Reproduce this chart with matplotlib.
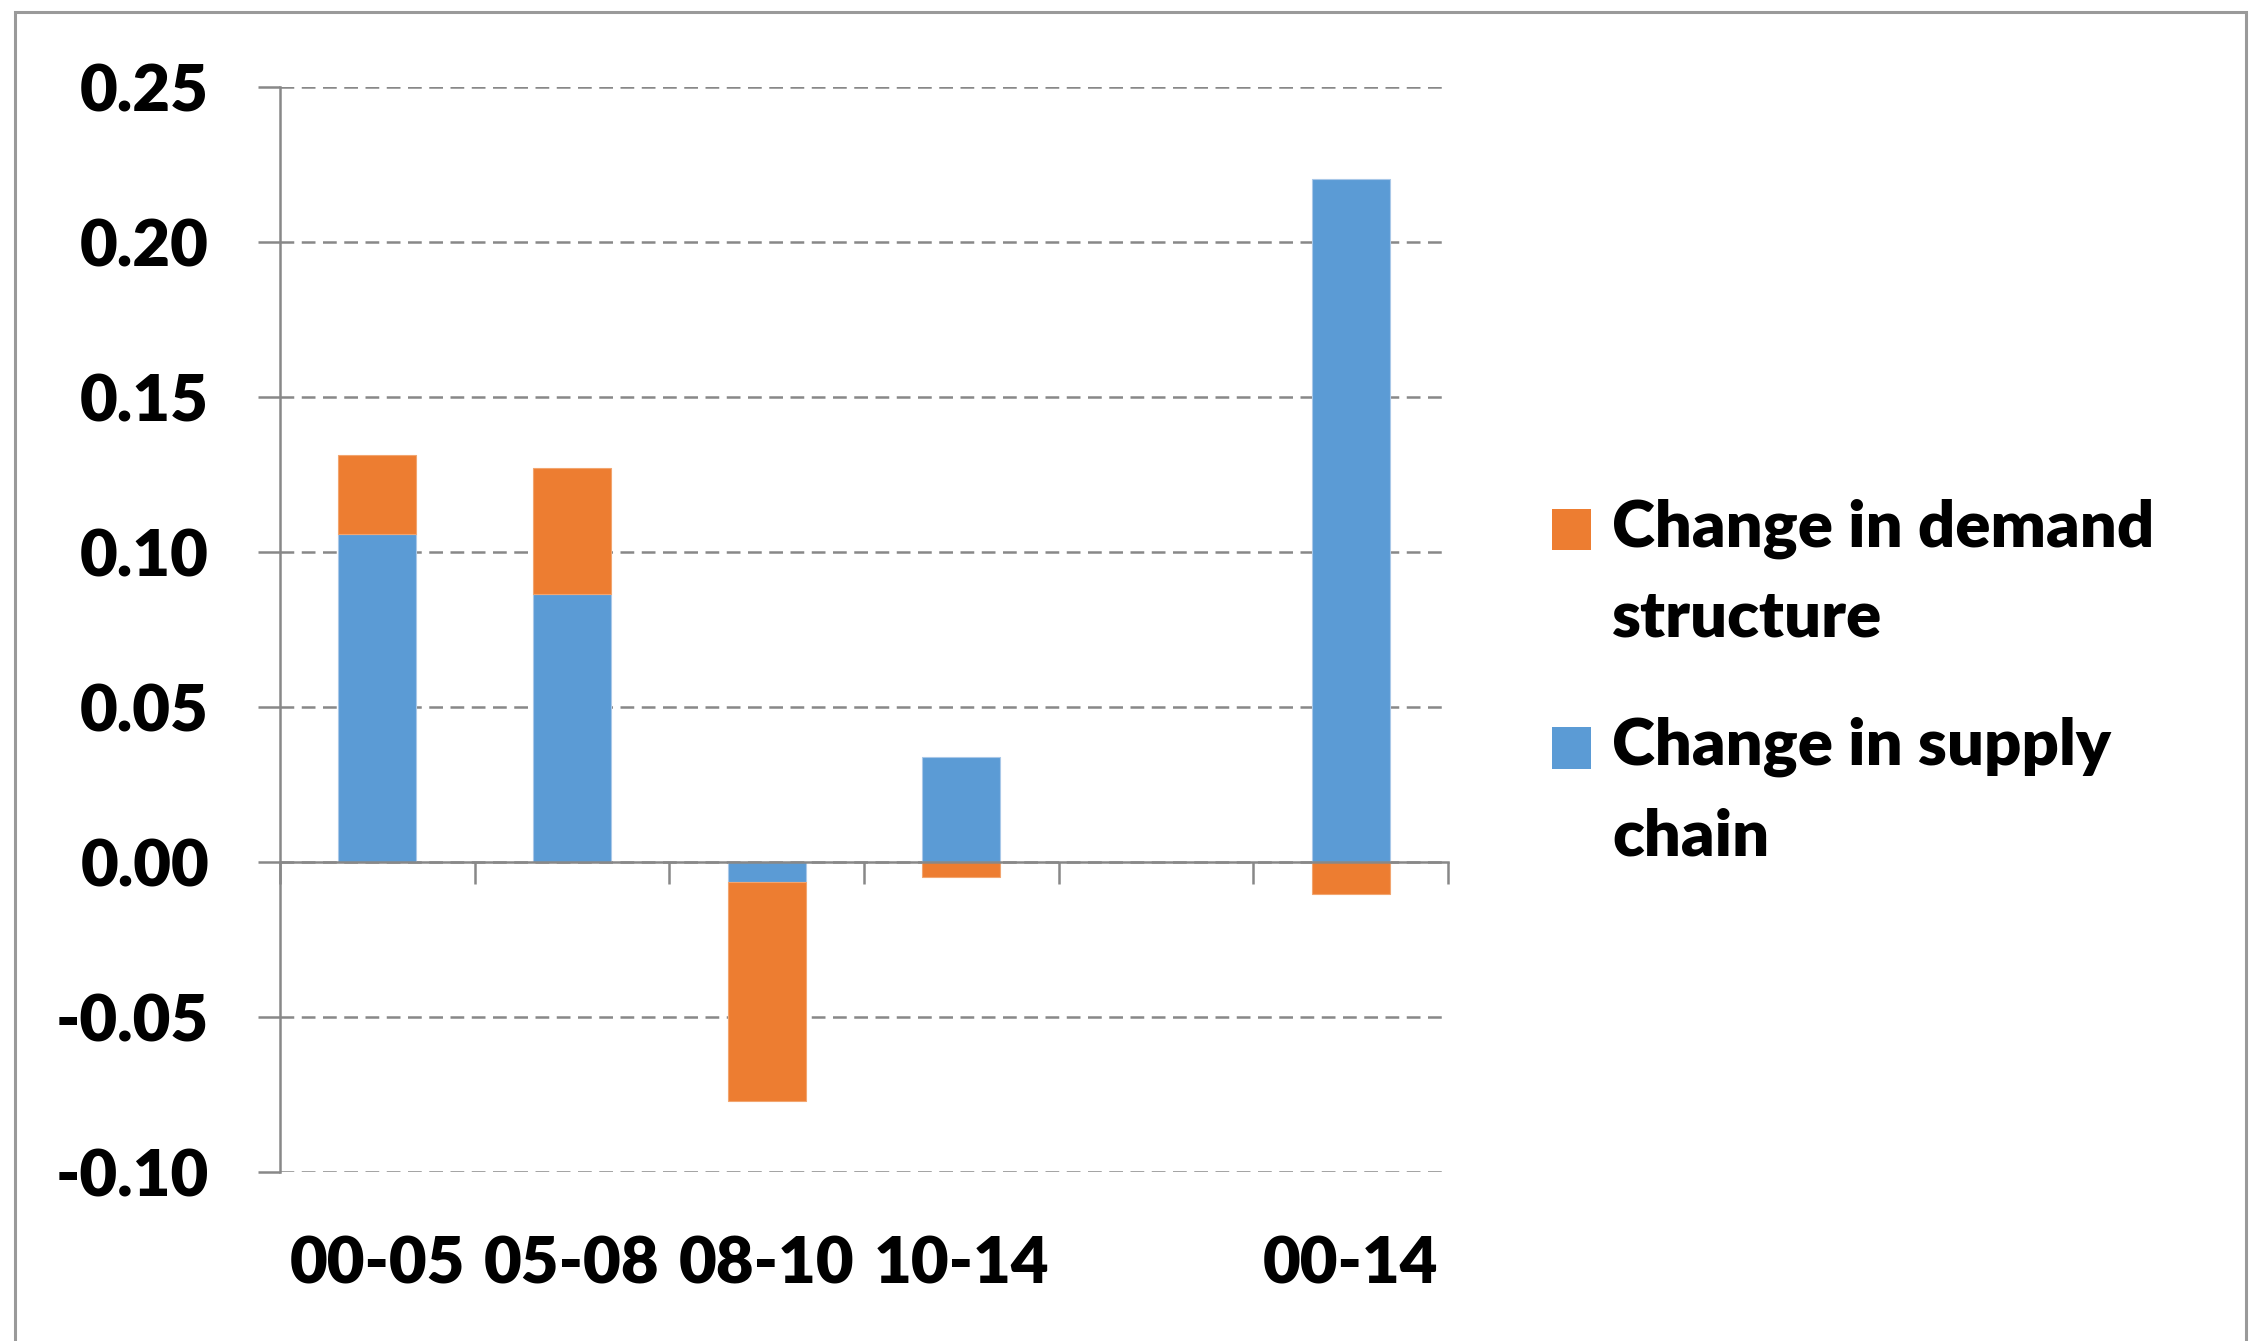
import numpy as np
import matplotlib.pyplot as plt
from matplotlib.patches import Rectangle, Patch
from matplotlib.legend_handler import HandlerPatch

plt.rcParams['font.family'] = ['Lato', 'DejaVu Sans']
plt.rcParams['font.weight'] = 'heavy'

# ── Data ─────────────────────────────────────────────────────────────────
periods = ["00-05", "05-08", "08-10", "10-14", "", "00-14"]
supply_chain = [0.106, 0.0865, -0.0063, 0.034, np.nan, 0.2205]
demand_structure = [0.0252, 0.0405, -0.0708, -0.0047, np.nan, -0.0102]

y_ticks = [-0.10, -0.05, 0.00, 0.05, 0.10, 0.15, 0.20, 0.25]

BLUE = '#5B9BD5'
ORANGE = '#ED7D31'
GREY = '#888888'
FS = 47

fig = plt.figure(figsize=(22.52, 13.41), dpi=100)
ax = fig.add_axes([0.1243, 0.126, 0.5187, 0.809])

x = np.arange(len(periods))
sup = np.array(supply_chain, dtype=float)
dem = np.array(demand_structure, dtype=float)
# Excel-style stacking: negatives stack below zero, positives above
dem_bottom = np.where(np.sign(dem) == np.sign(sup), sup, 0.0)

ax.bar(x, sup, width=0.4, color=BLUE, edgecolor='#a9c8e8', linewidth=0.8, zorder=3)
ax.bar(x, dem, width=0.4, bottom=dem_bottom, color=ORANGE, edgecolor='#f2a56f',
       linewidth=0.8, zorder=3)

ax.set_xlim(-0.5, len(periods) - 0.5)
ax.set_ylim(-0.10, 0.25)
ax.set_yticks(y_ticks)
ax.set_yticklabels([f"{v:.2f}" for v in y_ticks])
ax.yaxis.grid(True, color=GREY, linestyle=(0, (5.5, 3)), linewidth=1.8, zorder=0)

# category axis sits at zero, tick marks at the category boundaries
ax.spines['bottom'].set_position(('data', 0))
ax.set_xticks(np.arange(len(periods) + 1) - 0.5)
ax.set_xticklabels([])
for side in ['top', 'right']:
    ax.spines[side].set_visible(False)
for side in ['left', 'bottom']:
    ax.spines[side].set_color(GREY)
    ax.spines[side].set_linewidth(1.8)
    ax.spines[side].set_zorder(4)
ax.tick_params(axis='both', direction='out', length=16, width=1.8, color=GREY)
ax.tick_params(axis='y', labelsize=FS, pad=35)

# period labels along the bottom of the plot area
sec = ax.secondary_xaxis(0)
sec.set_xticks(x)
sec.set_xticklabels(periods, fontsize=FS, fontweight='heavy')
sec.tick_params(length=0, pad=46)
sec.spines['bottom'].set_visible(False)


# legend swatch sits level with the first line of its label
def top_square(legend, orig_handle, xdescent, ydescent, width, height, fontsize):
    return Rectangle((-xdescent, -ydescent + 32), width, height)


handles = [Patch(facecolor=ORANGE), Patch(facecolor=BLUE)]
labels = ["Change in demand\nstructure", "Change in supply\nchain"]
leg = fig.legend(handles, labels, loc='upper left',
                 bbox_to_anchor=(0.663, 0.672), frameon=False,
                 fontsize=FS, handlelength=0.6, handleheight=0.6,
                 handletextpad=0.32, labelspacing=1.06,
                 handler_map={Patch: HandlerPatch(patch_func=top_square)})
for t in leg.get_texts():
    t.set_linespacing(1.62)

# chart frame
fig.patches.append(Rectangle((0.0065, -0.05), 0.991, 1.05 - 0.0087,
                             transform=fig.transFigure, fill=False,
                             edgecolor='#9a9a9a', linewidth=2.2))

fig.savefig("out.png", dpi=100)
